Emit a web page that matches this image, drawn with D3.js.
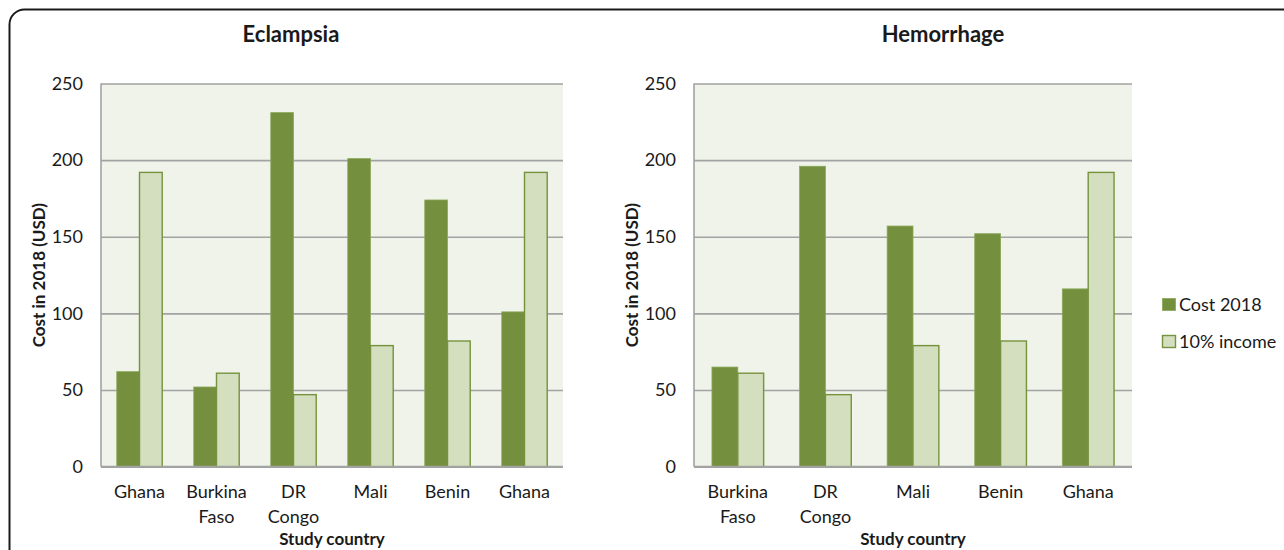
<!DOCTYPE html>
<html>
<head>
<meta charset="utf-8">
<script src="https://cdn.jsdelivr.net/npm/d3@7"></script>
<style>
  html, body { margin: 0; padding: 0; background: #fff; }
  svg { display: block; font-family: Lato, "Open Sans", sans-serif; }
</style>
</head>
<body>
<svg id="chart" width="1284" height="550"></svg>
<script>
// Per-episode cost of care vs. 10% of household income, by study country
const eclampsiaCountries = ["Ghana", "Burkina Faso", "DR Congo", "Mali", "Benin", "Ghana"];
const eclampsiaCost = [62, 52, 231, 201, 174, 101];
const eclampsiaIncome = [192, 61, 47, 79, 82, 192];

const hemorrhageCountries = ["Burkina Faso", "DR Congo", "Mali", "Benin", "Ghana"];
const hemorrhageCost = [65, 196, 157, 152, 116];
const hemorrhageIncome = [61, 47, 79, 82, 192];

const seriesNames = ["Cost 2018", "10% income"];
const yTicks = [0, 50, 100, 150, 200, 250];

const DARK = "#748f3e";
const LIGHT = "#d3dfbe";
const EDGE = "#76923c";
const GRID = "#a3a3a3";
const PLOT_BG = "#eff3e9";
const LABEL_SIZE = 18;

const svg = d3.select("#chart");

// outer frame with rounded corner
svg.append("rect")
  .attr("x", 9.5).attr("y", 9.5)
  .attr("width", 1320).attr("height", 600)
  .attr("rx", 15).attr("ry", 15)
  .attr("fill", "none").attr("stroke", "#1a1a1a").attr("stroke-width", 2);

function drawPanel(opts) {
  const { title, titleX, countries, cost, income, left, right, top, bottom } = opts;
  const g = svg.append("g");

  const y = d3.scaleLinear().domain([0, 250]).range([bottom, top]);
  const x = d3.scaleBand().domain(d3.range(countries.length)).range([left, right]).padding(0);
  const step = x.step();
  const xs = d3.scaleBand().domain(seriesNames).range([0, step]).paddingInner(0).paddingOuter(0.695);

  // plot background
  g.append("rect")
    .attr("x", left).attr("y", top)
    .attr("width", right - left).attr("height", bottom - top)
    .attr("fill", PLOT_BG);

  // gridlines and y tick labels
  const yAxis = g.append("g")
    .attr("transform", `translate(${left},0)`)
    .call(d3.axisLeft(y).tickValues(yTicks).tickSize(-(right - left)).tickPadding(18));
  yAxis.select(".domain").remove();
  yAxis.selectAll(".tick line").attr("stroke", GRID).attr("stroke-width", 1.6);
  yAxis.selectAll(".tick text")
    .attr("fill", "#1a1a1a").attr("font-size", LABEL_SIZE).attr("font-family", "Lato, sans-serif");

  // left axis line
  g.append("line")
    .attr("x1", left).attr("x2", left).attr("y1", top).attr("y2", bottom)
    .attr("stroke", GRID).attr("stroke-width", 1.6);

  // bars
  const rows = countries.map((c, i) => ({ i, values: [cost[i], income[i]] }));
  const groups = g.selectAll(".grp").data(rows).join("g")
    .attr("transform", d => `translate(${x(d.i)},0)`);
  groups.selectAll("rect")
    .data(d => d.values.map((v, k) => ({ key: seriesNames[k], v })))
    .join("rect")
    .attr("x", d => xs(d.key))
    .attr("y", d => y(d.v))
    .attr("width", xs.bandwidth())
    .attr("height", d => y(0) - y(d.v))
    .attr("fill", d => d.key === seriesNames[0] ? DARK : LIGHT)
    .attr("stroke", d => d.key === seriesNames[0] ? "#8aa757" : EDGE)
    .attr("stroke-width", d => d.key === seriesNames[0] ? 0.8 : 1.4);

  // baseline
  g.append("line")
    .attr("x1", left).attr("x2", right).attr("y1", bottom).attr("y2", bottom)
    .attr("stroke", GRID).attr("stroke-width", 2);

  // category labels, wrapped on spaces
  const xAxis = g.append("g")
    .attr("transform", `translate(0,${bottom})`)
    .call(d3.axisBottom(x).tickSize(0).tickFormat(i => countries[i]));
  xAxis.select(".domain").remove();
  xAxis.selectAll(".tick text").each(function(i) {
    const t = d3.select(this);
    const words = countries[i].split(" ");
    t.text(null).attr("y", 31).attr("dy", null)
      .attr("fill", "#1a1a1a").attr("font-size", LABEL_SIZE).attr("font-family", "Lato, sans-serif");
    words.forEach((w, k) => {
      t.append("tspan").attr("x", 0).attr("dy", k === 0 ? 0 : 25).text(w);
    });
  });

  // axis titles
  g.append("text")
    .attr("x", (left + right) / 2).attr("y", 545)
    .attr("text-anchor", "middle")
    .attr("font-size", 17).attr("font-weight", "bold").attr("fill", "#1a1a1a")
    .text("Study country");

  g.append("text")
    .attr("transform", `translate(${left - 63},${(top + bottom) / 2}) rotate(-90)`)
    .attr("text-anchor", "middle").attr("dominant-baseline", "central")
    .attr("font-size", 17).attr("font-weight", "bold").attr("fill", "#1a1a1a")
    .text("Cost in 2018 (USD)");

  // panel title
  g.append("text")
    .attr("x", titleX).attr("y", 42)
    .attr("text-anchor", "middle")
    .attr("font-size", 22).attr("font-weight", "bold").attr("fill", "#1a1a1a")
    .text(title);
}

drawPanel({
  title: "Eclampsia", titleX: 291,
  countries: eclampsiaCountries, cost: eclampsiaCost, income: eclampsiaIncome,
  left: 101, right: 563, top: 83.5, bottom: 466.7
});

drawPanel({
  title: "Hemorrhage", titleX: 943,
  countries: hemorrhageCountries, cost: hemorrhageCost, income: hemorrhageIncome,
  left: 694, right: 1132, top: 83.5, bottom: 466.7
});

// legend
const legend = svg.append("g").attr("transform", "translate(1162,298)");
const items = legend.selectAll("g").data(seriesNames).join("g")
  .attr("transform", (d, i) => `translate(0,${i * 37})`);
items.append("rect")
  .attr("x", 0.5).attr("y", 0.5).attr("width", 13).attr("height", 12)
  .attr("fill", (d, i) => i === 0 ? DARK : LIGHT)
  .attr("stroke", (d, i) => i === 0 ? "#8aa757" : EDGE)
  .attr("stroke-width", (d, i) => i === 0 ? 0.8 : 1.4);
items.append("text")
  .attr("x", 17).attr("y", 12.5)
  .attr("font-size", LABEL_SIZE).attr("fill", "#1a1a1a")
  .text(d => d);
</script>
</body>
</html>
